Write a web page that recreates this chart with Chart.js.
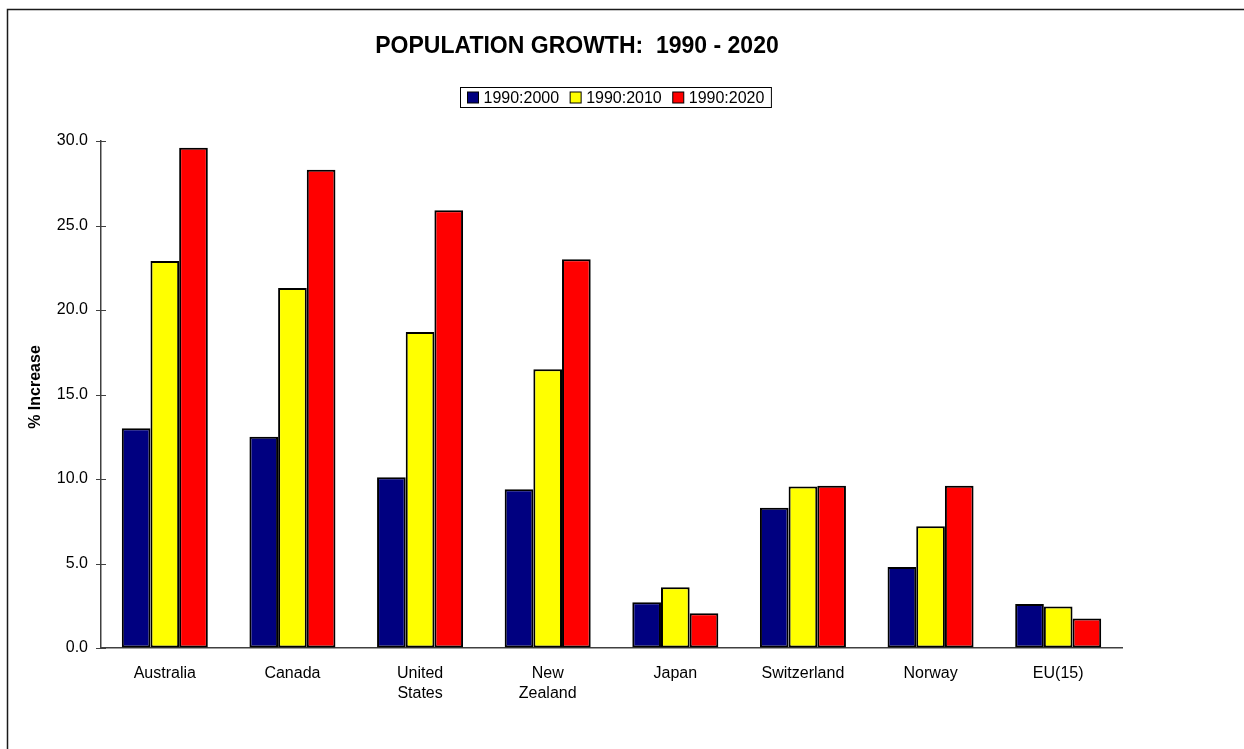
<!DOCTYPE html>
<html>
<head>
<meta charset="utf-8">
<script src="https://cdn.jsdelivr.net/npm/chart.js@4/dist/chart.umd.min.js"></script>
<style>
  html, body { margin: 0; padding: 0; background: #fff; }
  canvas { display: block; }
</style>
</head>
<body>
<canvas id="growthChart" width="1244" height="749"></canvas>
<script>
// Population growth per country, % increase over 1990
const countries = ['Australia', 'Canada', ['United', 'States'], ['New', 'Zealand'], 'Japan', 'Switzerland', 'Norway', 'EU(15)'];
const growth2000 = [13.0, 12.5, 10.1, 9.4, 2.7, 8.3, 4.8, 2.6];
const growth2010 = [22.9, 21.3, 18.7, 16.5, 3.6, 9.55, 7.2, 2.45];
const growth2020 = [29.6, 28.3, 25.9, 23.0, 2.05, 9.6, 9.6, 1.75];
const periodNames = ['1990:2000', '1990:2010', '1990:2020'];
const periodColors = ['#000080', '#FFFF00', '#FF0000'];
const yTicks = [0, 5, 10, 15, 20, 25, 30];

const FONT = 'Arial, "Liberation Sans", sans-serif';

// frame, title, legend, y title and cross tick marks
const decorations = {
  id: 'decorations',
  beforeDraw(chart) {
    const ctx = chart.ctx;
    ctx.save();
    ctx.fillStyle = '#fff';
    ctx.fillRect(0, 0, chart.width, chart.height);
    ctx.restore();
  },
  afterDraw(chart) {
    const ctx = chart.ctx;
    const yScale = chart.scales.y;
    const area = chart.chartArea;
    ctx.save();

    // outer frame (top and left edges)
    ctx.strokeStyle = '#1a1a1a';
    ctx.lineWidth = 1.5;
    ctx.beginPath();
    ctx.moveTo(7.5, chart.height);
    ctx.lineTo(7.5, 9.5);
    ctx.lineTo(chart.width, 9.5);
    ctx.stroke();

    // title
    ctx.fillStyle = '#000';
    ctx.font = 'bold 23px ' + FONT;
    ctx.textAlign = 'center';
    ctx.textBaseline = 'middle';
    ctx.fillText('POPULATION GROWTH:  1990 - 2020', 577, 47);

    // legend
    ctx.font = '16px ' + FONT;
    const sw = 11, gapSw = 5, gapItem = 11, pad = 7;
    const widths = periodNames.map(n => ctx.measureText(n).width);
    let total = pad * 2;
    widths.forEach((w, i) => { total += sw + gapSw + w + (i < widths.length - 1 ? gapItem : 0); });
    const boxX = Math.round(615 - total / 2) + 0.5, boxY = 87.5, boxH = 20;
    ctx.strokeStyle = '#000';
    ctx.lineWidth = 1;
    ctx.strokeRect(boxX, boxY, total, boxH);
    let x = boxX + pad;
    const cy = boxY + boxH / 2;
    ctx.textAlign = 'left';
    periodNames.forEach((name, i) => {
      ctx.fillStyle = periodColors[i];
      ctx.fillRect(x, cy - sw / 2, sw, sw);
      ctx.strokeRect(x, cy - sw / 2, sw, sw);
      x += sw + gapSw;
      ctx.fillStyle = '#000';
      ctx.fillText(name, x, cy + 1);
      x += widths[i] + gapItem;
    });

    // y axis title
    ctx.save();
    ctx.translate(36, 387);
    ctx.rotate(-Math.PI / 2);
    ctx.font = 'bold 16px ' + FONT;
    ctx.textAlign = 'center';
    ctx.fillText('% Increase', 0, 0);
    ctx.restore();

    // tick marks crossing the y axis
    ctx.strokeStyle = '#404040';
    ctx.lineWidth = 1;
    yScale.ticks.forEach(t => {
      const py = Math.round(yScale.getPixelForValue(t.value)) + 0.5;
      ctx.beginPath();
      ctx.moveTo(area.left - 5, py);
      ctx.lineTo(area.left + 5, py);
      ctx.stroke();
    });
    ctx.restore();
  }
};

const seriesValues = [growth2000, growth2010, growth2020];

new Chart(document.getElementById('growthChart'), {
  type: 'bar',
  data: {
    labels: countries,
    datasets: seriesValues.map((vals, i) => ({
      label: periodNames[i],
      data: vals,
      backgroundColor: periodColors[i],
      borderColor: '#000',
      borderWidth: 2,
      borderSkipped: false,
      barPercentage: 1.0,
      categoryPercentage: 0.674
    }))
  },
  options: {
    responsive: false,
    animation: false,
    devicePixelRatio: 1,
    layout: { padding: { left: 0, right: 122, top: 141, bottom: 0 } },
    plugins: {
      legend: { display: false },
      title: { display: false },
      tooltip: { enabled: false }
    },
    scales: {
      x: {
        grid: { display: false },
        border: { display: true, color: '#404040', width: 1.5 },
        ticks: {
          color: '#000',
          font: { family: FONT, size: 16, lineHeight: 1.25 },
          padding: 8,
          maxRotation: 0,
          autoSkip: false
        },
        afterFit(scale) { scale.height = 101; }
      },
      y: {
        min: 0,
        max: 30,
        afterBuildTicks(scale) { scale.ticks = yTicks.map(v => ({ value: v })); },
        grid: { display: true, drawOnChartArea: false, drawTicks: false },
        border: { display: true, color: '#404040', width: 1.5 },
        ticks: {
          color: '#000',
          font: { family: FONT, size: 16 },
          padding: 13,
          callback: v => v.toFixed(1)
        },
        afterFit(scale) { scale.width = 101; }
      }
    }
  },
  plugins: [decorations]
});
</script>
</body>
</html>
